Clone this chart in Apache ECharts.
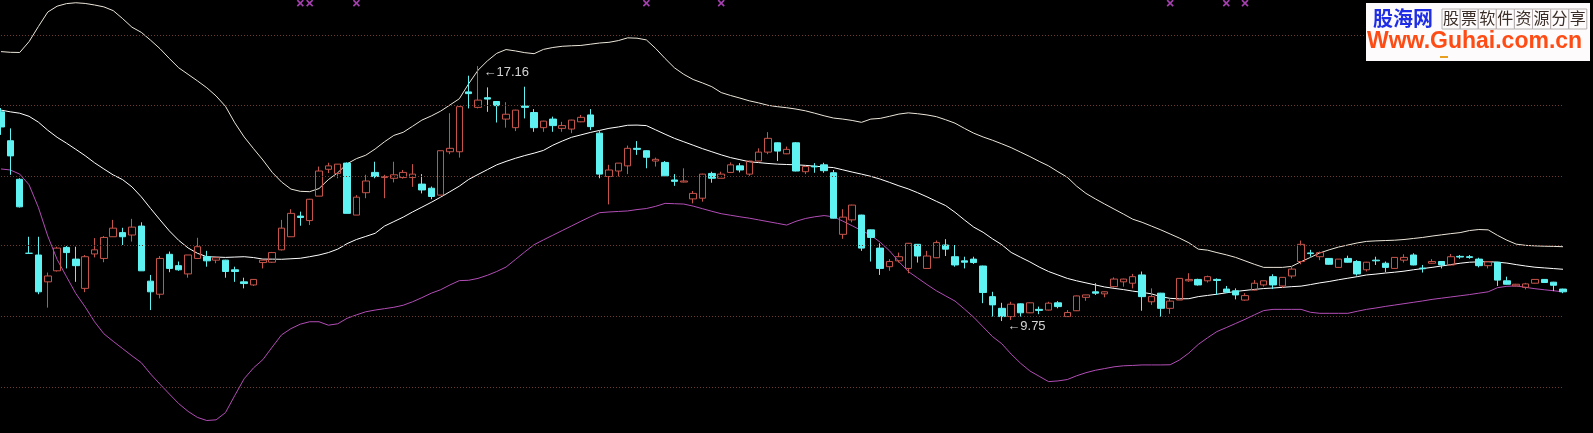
<!DOCTYPE html>
<html><head><meta charset="utf-8">
<script src="https://cdn.jsdelivr.net/npm/echarts@6/dist/echarts.min.js"></script>
<style>html,body{margin:0;padding:0;background:#000;overflow:hidden}#c{width:1593px;height:433px}</style>
</head><body><div id="c"></div>
<script>
const OPEN = [15.83,14.99,13.87,11.72,11.67,10.89,11.21,11.89,11.55,10.70,
11.70,11.57,12.20,12.32,12.25,12.51,10.91,10.53,11.69,11.36,
11.12,11.57,11.62,11.52,11.52,11.24,10.89,10.80,11.45,11.46,
11.82,12.20,12.80,12.67,13.38,14.16,14.04,14.34,12.83,13.48,
14.07,13.92,13.90,13.92,13.92,13.73,13.61,13.41,14.67,14.67,
16.41,15.96,16.24,16.13,15.62,15.37,16.00,15.81,15.37,15.62,
15.35,15.33,15.54,15.74,15.21,13.95,14.11,14.26,14.77,14.70,
14.40,14.36,13.85,13.79,13.30,13.32,14.04,13.90,14.07,14.26,
14.02,14.40,14.66,14.93,14.61,14.93,14.09,14.25,14.29,14.06,
12.27,12.69,12.83,12.40,11.87,11.33,11.50,11.28,11.98,11.28,
11.59,11.96,11.62,11.50,11.55,11.35,10.46,10.12,9.88,10.25,
9.99,10.09,10.07,10.28,9.88,10.05,10.44,10.60,10.54,10.75,
10.89,10.85,11.09,10.31,10.56,10.12,10.36,10.92,10.96,10.92,
10.96,10.68,10.63,10.36,10.65,10.80,11.04,10.77,11.06,11.48,
11.73,11.62,11.57,11.31,11.57,11.48,11.24,11.52,11.43,11.28,
11.52,11.67,11.29,11.43,11.48,11.38,11.63,11.62,11.55,11.36,
11.46,10.92,10.77,10.73,10.85,10.96,10.88,10.68];
const CLOSE = [15.39,14.55,13.07,11.72,10.60,11.06,11.87,11.74,11.36,11.62,
11.82,12.18,12.45,12.20,12.48,11.21,10.60,11.57,11.28,11.24,
11.67,11.91,11.50,11.59,11.19,11.19,10.84,10.96,11.52,11.74,
12.45,12.88,12.76,13.29,14.11,14.26,14.31,12.88,13.35,13.82,
13.95,13.95,14.00,14.07,14.02,13.56,13.37,14.70,14.77,15.98,
16.36,16.17,16.20,16.01,15.76,15.88,15.96,15.37,15.56,15.43,
15.43,15.59,15.67,15.40,14.02,14.14,14.34,14.77,14.74,14.51,
14.45,13.97,13.81,13.82,13.46,14.02,13.90,14.02,14.29,14.14,
14.40,14.66,15.06,14.69,14.74,14.11,14.24,14.23,14.12,12.74,
12.77,13.12,11.87,12.18,11.28,11.48,11.62,12.01,11.64,11.64,
12.03,11.84,11.38,11.46,11.45,10.58,10.22,9.88,10.24,9.99,
10.28,10.06,10.27,10.17,10.00,10.48,10.51,10.56,10.60,10.97,
10.97,11.04,10.46,10.46,10.12,10.33,10.99,10.96,10.80,11.04,
10.93,10.59,10.51,10.49,10.85,10.92,10.80,11.02,11.26,11.98,
11.71,11.74,11.40,11.55,11.46,11.12,11.46,11.50,11.31,11.60,
11.60,11.38,11.27,11.48,11.38,11.62,11.61,11.60,11.36,11.48,
10.94,10.82,10.82,10.83,10.96,10.87,10.79,10.60];
const LOW = [15.16,14.00,13.05,11.72,10.53,10.14,11.19,11.28,10.89,10.59,
11.60,11.46,12.20,11.96,12.06,11.21,10.07,10.41,11.17,11.21,
11.01,11.57,11.33,11.43,11.01,10.89,10.70,10.77,11.28,11.44,
11.80,12.20,12.52,12.54,13.38,14.05,13.90,12.88,12.83,13.32,
13.90,13.32,13.78,13.89,13.65,13.46,13.29,13.41,14.60,14.50,
15.93,15.93,15.83,15.52,15.37,15.27,15.64,15.25,15.25,15.25,
15.25,15.21,15.53,15.30,13.90,13.14,13.95,14.02,14.58,14.19,
14.24,13.97,13.68,13.78,13.17,13.22,13.77,13.90,14.06,14.07,
13.97,14.39,14.60,14.40,14.60,14.10,14.02,14.06,14.06,12.73,
12.14,12.62,11.79,11.48,11.09,11.21,11.45,11.14,11.45,11.27,
11.58,11.64,11.33,11.28,11.41,10.27,9.88,9.75,9.78,9.88,
9.98,9.95,10.06,10.12,9.87,10.04,10.34,10.51,10.44,10.72,
10.75,10.70,10.05,10.22,9.88,9.96,10.36,10.89,10.78,10.87,
10.51,10.58,10.38,10.34,10.64,10.75,10.68,10.72,10.99,11.40,
11.62,11.52,11.39,11.30,11.45,11.07,11.19,11.38,11.17,11.27,
11.45,11.37,11.16,11.42,11.28,11.37,11.56,11.56,11.31,11.28,
10.77,10.81,10.76,10.67,10.84,10.86,10.62,10.56];
const HIGH = [15.94,15.35,13.90,12.20,12.20,11.16,11.91,11.93,11.91,11.67,
12.16,12.22,12.69,12.46,12.72,12.62,11.09,11.64,11.77,11.48,
11.67,12.17,11.79,11.60,11.53,11.33,11.01,10.97,11.53,11.76,
12.69,13.00,12.93,13.30,14.24,14.35,14.31,14.36,13.41,14.00,
14.38,14.00,14.38,14.14,14.31,14.02,13.66,14.70,15.79,16.00,
16.88,17.16,16.54,16.14,16.11,15.89,16.56,15.91,15.57,15.69,
15.54,15.60,15.74,15.91,15.27,14.29,14.34,14.85,14.98,14.71,
14.50,14.40,14.02,14.19,13.53,14.03,14.09,14.09,14.36,14.34,
14.41,14.77,15.24,14.94,14.82,14.95,14.24,14.34,14.35,14.14,
13.00,13.13,12.84,12.41,12.01,11.55,11.74,12.02,11.99,11.79,
12.09,12.13,11.96,11.62,11.62,11.36,10.60,10.28,10.31,10.26,
10.29,10.17,10.31,10.33,10.07,10.49,10.51,10.85,10.61,11.02,
10.98,11.12,11.19,10.70,10.57,10.41,10.99,11.14,10.98,11.07,
10.99,10.77,10.70,10.56,10.94,10.92,11.11,11.03,11.35,12.09,
11.82,11.77,11.58,11.55,11.65,11.52,11.47,11.62,11.48,11.61,
11.69,11.72,11.38,11.55,11.48,11.70,11.67,11.67,11.59,11.48,
11.47,11.04,10.83,10.86,10.97,10.97,10.89,10.69];
const UPPER = [17.58,17.56,17.555,17.87,18.31,18.73,18.90,18.975,19.00,18.98,
18.935,18.88,18.77,18.54,18.29,18.14,17.91,17.665,17.38,17.11,
16.92,16.73,16.53,16.29,15.99,15.51,15.10,14.76,14.43,14.07,
13.79,13.585,13.52,13.51,13.60,13.86,14.06,14.32,14.47,14.57,
14.75,14.96,15.145,15.235,15.41,15.59,15.71,15.85,16.03,16.21,
16.645,17.04,17.31,17.53,17.64,17.60,17.55,17.52,17.645,17.70,
17.735,17.75,17.76,17.795,17.83,17.85,17.90,17.98,17.97,17.92,
17.67,17.38,17.11,16.92,16.77,16.67,16.56,16.39,16.305,16.23,
16.15,16.09,16.02,15.98,15.95,15.91,15.86,15.79,15.715,15.65,
15.62,15.58,15.525,15.62,15.64,15.70,15.765,15.80,15.775,15.74,
15.69,15.60,15.50,15.35,15.21,15.10,15.005,14.90,14.79,14.66,
14.53,14.39,14.26,14.09,13.93,13.67,13.46,13.30,13.15,13.005,
12.86,12.71,12.62,12.51,12.40,12.28,12.16,12.025,11.84,11.81,
11.74,11.675,11.60,11.50,11.40,11.31,11.31,11.31,11.34,11.475,
11.60,11.73,11.82,11.90,11.96,12.02,12.065,12.08,12.09,12.10,
12.12,12.15,12.18,12.22,12.255,12.29,12.32,12.38,12.41,12.40,
12.24,12.10,11.985,11.95,11.935,11.925,11.92,11.91];
const MIDDLE = [15.88,15.83,15.79,15.70,15.53,15.295,15.09,14.92,14.74,14.555,
14.35,14.17,13.995,13.86,13.65,13.36,13.02,12.69,12.37,12.095,
11.875,11.72,11.62,11.61,11.60,11.61,11.62,11.595,11.55,11.55,
11.545,11.56,11.575,11.62,11.67,11.74,11.84,12.00,12.12,12.21,
12.30,12.51,12.64,12.77,12.92,13.06,13.20,13.35,13.51,13.67,
13.865,14.01,14.15,14.29,14.39,14.48,14.56,14.63,14.71,14.86,
14.98,15.09,15.16,15.23,15.29,15.35,15.39,15.44,15.445,15.43,
15.305,15.18,15.06,14.96,14.86,14.76,14.67,14.58,14.50,14.44,
14.38,14.355,14.33,14.31,14.30,14.29,14.275,14.25,14.23,14.21,
14.145,14.08,14.02,13.955,13.875,13.78,13.68,13.59,13.48,13.36,
13.23,13.105,12.91,12.69,12.48,12.33,12.14,11.97,11.745,11.605,
11.47,11.32,11.19,11.09,10.99,10.92,10.86,10.80,10.74,10.70,
10.665,10.62,10.585,10.54,10.46,10.41,10.395,10.40,10.46,10.495,
10.53,10.57,10.61,10.64,10.67,10.695,10.71,10.73,10.75,10.765,
10.81,10.86,10.90,10.95,10.995,11.04,11.09,11.115,11.145,11.17,
11.20,11.24,11.275,11.31,11.35,11.39,11.43,11.46,11.47,11.475,
11.46,11.435,11.39,11.35,11.315,11.295,11.275,11.255];
const LOWER = [14.17,14.14,14.02,13.71,13.05,12.22,11.54,11.04,10.55,10.16,
9.73,9.38,9.16,8.95,8.74,8.54,8.21,7.915,7.63,7.35,
7.125,6.95,6.86,6.88,7.09,7.59,8.075,8.39,8.63,8.995,
9.35,9.53,9.66,9.73,9.73,9.63,9.67,9.83,9.93,10.02,
10.07,10.11,10.15,10.21,10.31,10.43,10.56,10.66,10.80,10.925,
10.935,10.99,11.08,11.19,11.32,11.54,11.76,11.97,12.11,12.245,
12.38,12.515,12.65,12.78,12.90,12.92,12.935,12.95,12.99,13.02,
13.085,13.17,13.16,13.15,13.09,13.015,12.94,12.87,12.825,12.78,
12.74,12.69,12.64,12.59,12.54,12.65,12.73,12.78,12.815,12.78,
12.655,12.52,12.38,12.245,12.04,11.79,11.475,11.19,11.00,10.81,
10.63,10.48,10.33,10.10,9.86,9.58,9.30,9.09,8.79,8.525,
8.30,8.145,7.99,8.01,8.05,8.16,8.25,8.32,8.37,8.42,
8.45,8.46,8.475,8.475,8.475,8.48,8.62,8.82,9.07,9.265,
9.445,9.56,9.68,9.80,9.93,10.055,10.09,10.09,10.09,10.09,
10.005,9.975,9.975,9.975,9.975,10.035,10.09,10.13,10.175,10.215,
10.255,10.295,10.335,10.38,10.415,10.45,10.485,10.52,10.56,10.60,
10.72,10.76,10.77,10.73,10.69,10.66,10.63,10.60];
const GRID_LEVELS = [18.06, 16.01, 13.95, 11.94, 9.88, 7.84];
const MARKER_INDEX = [32, 33, 38, 69, 77, 125, 131, 133];
const MARKER_LEVEL = 18.99;
const HIGH_MARK = {index: 51, value: 17.16, text: '17.16'};
const LOW_MARK = {index: 107, value: 9.75, text: '9.75'};
const Y_MIN = 6.497, Y_MAX = 19.08;

const CATEGORIES = OPEN.map((_, i) => String(i + 1));
const candleData = OPEN.map((o, i) => [o, CLOSE[i], LOW[i], HIGH[i]]);

const RED = '#c6544b', CYAN = '#5ff2f2';
const chart = echarts.init(document.getElementById('c'), null, {renderer: 'canvas'});

const logoChars = '股票软件资源分享'.split('');
const graphic = [
  {type: 'rect', shape: {x: 1366, y: 3, width: 224, height: 58}, style: {fill: '#fdfbfb'}, z: 100},
  {type: 'text', x: 1373, y: 8, z: 101, style: {text: '股海网', font: 'bold 20px "Noto Sans CJK SC"', fill: '#1f2ee6'}}
];
logoChars.forEach((ch, k) => {
  graphic.push({type: 'rect', z: 101, shape: {x: 1442 + k * 18.1, y: 9, width: 18.1, height: 20},
    style: {fill: 'none', stroke: '#b8b0b0', lineWidth: 1}});
  graphic.push({type: 'text', z: 102, x: 1443 + k * 18.1, y: 10,
    style: {text: ch, font: '16px "Noto Sans CJK SC"', fill: '#3b2e28'}});
});
graphic.push({type: 'text', x: 1367, y: 30, z: 101,
  style: {text: 'Www.Guhai.com.cn', font: 'bold 23px "Liberation Sans"', fill: '#ff4b14'}});
graphic.push({type: 'rect', z: 101, shape: {x: 1440, y: 56, width: 8, height: 2}, style: {fill: '#e8a020'}});

chart.setOption({
  backgroundColor: '#000000',
  animation: false,
  grid: {left: 1, right: 30, top: 0, bottom: 0, containLabel: false},
  xAxis: {type: 'category', data: CATEGORIES, boundaryGap: false, show: false},
  yAxis: {type: 'value', min: Y_MIN, max: Y_MAX, show: false, splitLine: {show: false}},
  graphic: graphic,
  series: [
    {
      type: 'line', name: 'UPPER', data: UPPER, symbol: 'none', silent: true,
      lineStyle: {color: '#ece6da', width: 1}, z: 2,
      markLine: {
        silent: true, symbol: ['none', 'none'], label: {show: false},
        lineStyle: {color: '#6f3a30', type: [1, 2], width: 1},
        data: GRID_LEVELS.map(v => ({yAxis: v}))
      }
    },
    {type: 'line', name: 'MID', data: MIDDLE, symbol: 'none', silent: true,
      lineStyle: {color: '#ffffff', width: 1}, z: 2},
    {type: 'line', name: 'LOWER', data: LOWER, symbol: 'none', silent: true,
      lineStyle: {color: '#b24db6', width: 1}, z: 2},
    {
      type: 'candlestick', data: candleData, barWidth: 7, clip: false, z: 3,
      itemStyle: {color: 'rgba(0,0,0,0)', color0: CYAN, borderColor: RED, borderColor0: CYAN, borderWidth: 1},
      markPoint: {
        symbol: 'circle', symbolSize: 1, itemStyle: {color: 'rgba(0,0,0,0)'},
        label: {show: true, position: 'right', color: '#d4d4d4', fontSize: 13,
          fontFamily: '"Liberation Sans", Arial, sans-serif', formatter: p => '\u2190' + p.name},
        data: [
          {name: HIGH_MARK.text, coord: [HIGH_MARK.index, HIGH_MARK.value], label: {offset: [0, 6]}},
          {name: LOW_MARK.text, coord: [LOW_MARK.index, LOW_MARK.value], label: {offset: [0, 5]}}
        ]
      }
    },
    {
      type: 'scatter', data: MARKER_INDEX.map(i => [i, MARKER_LEVEL]), silent: true, z: 4,
      symbol: 'path://M0,0L10,10M10,0L0,10', symbolSize: 6,
      itemStyle: {color: 'none', borderColor: '#d050dc', borderWidth: 1.6}
    }
  ]
});
</script></body></html>
